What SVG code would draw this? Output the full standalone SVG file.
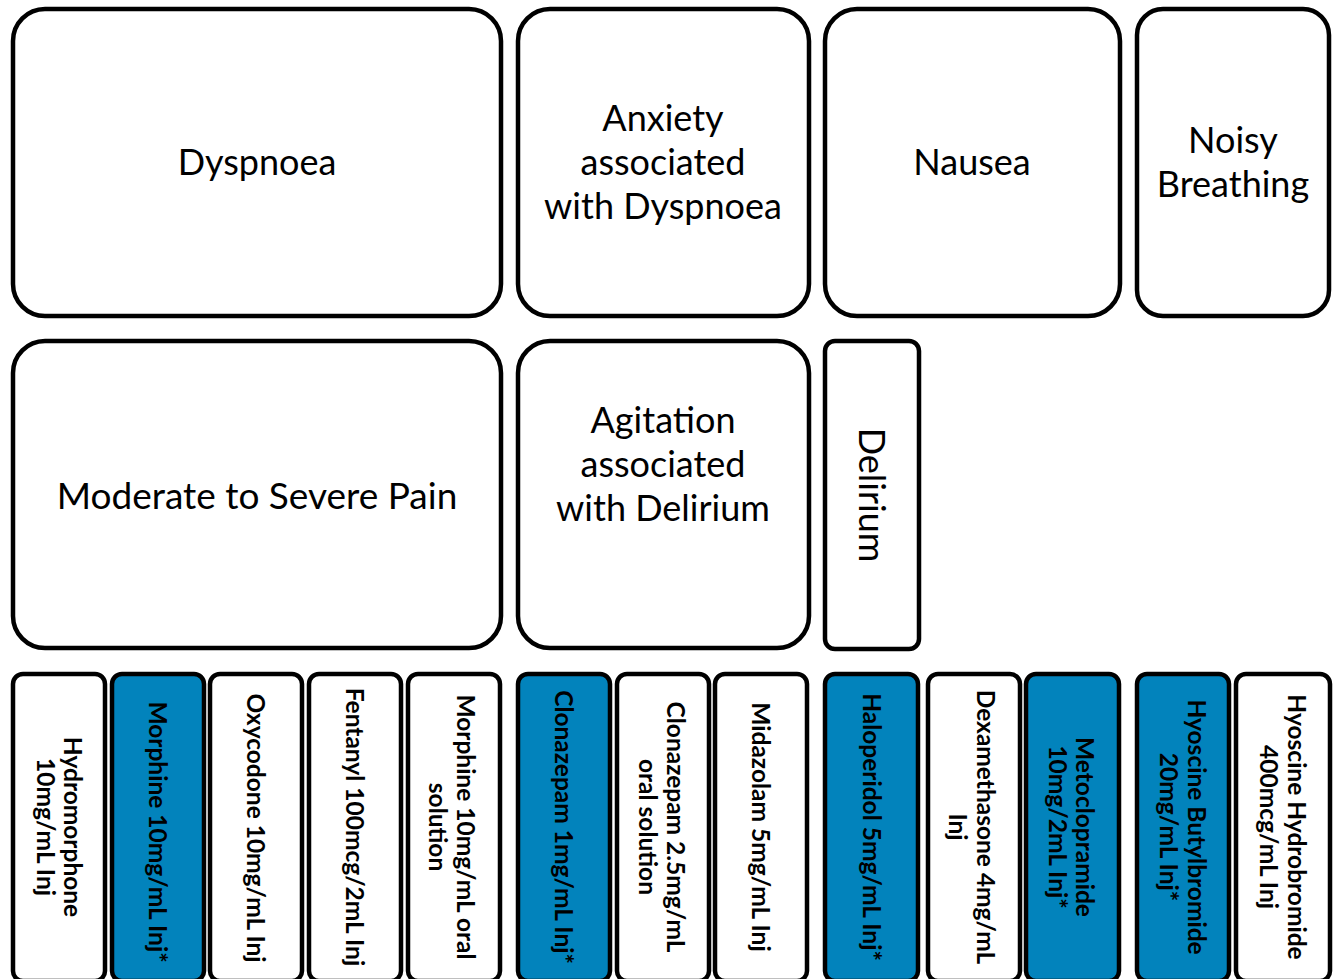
<svg xmlns="http://www.w3.org/2000/svg" width="1338" height="979" viewBox="0 0 1338 979">
<style>
.b{fill:#fff;stroke:#000;stroke-width:4.5}
.bl{fill:#0283BC;stroke:#000;stroke-width:4.5}
.t{font-family:Lato,"Liberation Sans",sans-serif;font-size:36px;fill:#000;text-anchor:middle}
.s{font-family:Lato,"Liberation Sans",sans-serif;font-size:24.5px;font-weight:bold;fill:#000;text-anchor:middle}
</style>
<rect width="1338" height="979" fill="#fff"/>
<g id="dyspnoea"><rect class="b" x="13" y="9" width="488" height="307" rx="32"/><text class="t" x="257" y="161" dominant-baseline="central">Dyspnoea</text></g>
<g id="anxiety"><rect class="b" x="518" y="9" width="291" height="307" rx="32"/><text class="t"><tspan x="663" y="117" dominant-baseline="central">Anxiety</tspan><tspan x="663" y="161" dominant-baseline="central">associated</tspan><tspan x="663" y="205" dominant-baseline="central">with Dyspnoea</tspan></text></g>
<g id="nausea"><rect class="b" x="825" y="9" width="295" height="307" rx="32"/><text class="t" x="972" y="161" dominant-baseline="central">Nausea</text></g>
<g id="noisy"><rect class="b" x="1137" y="9" width="192" height="307" rx="26"/><text class="t"><tspan x="1233" y="139" dominant-baseline="central">Noisy</tspan><tspan x="1233" y="183" dominant-baseline="central">Breathing</tspan></text></g>
<g id="pain"><rect class="b" x="13" y="341" width="488" height="307" rx="32"/><text class="t" x="257" y="494" dominant-baseline="central" style="font-size:37px">Moderate to Severe Pain</text></g>
<g id="agitation"><rect class="b" x="518" y="341" width="291" height="307" rx="32"/><text class="t"><tspan x="663" y="419" dominant-baseline="central">Agitation</tspan><tspan x="663" y="463" dominant-baseline="central">associated</tspan><tspan x="663" y="507" dominant-baseline="central">with Delirium</tspan></text></g>
<g id="delirium"><rect class="b" x="825" y="341" width="94" height="308" rx="10"/><text class="t" transform="translate(873,495) rotate(90)" x="0" y="0" dominant-baseline="central">Delirium</text></g>
<g id="hydromorphone"><rect class="b" x="13" y="674" width="92" height="307" rx="10"/><text class="s" transform="translate(60,827) rotate(90)"><tspan x="0" y="-13" dominant-baseline="central">Hydromorphone</tspan><tspan x="0" y="14" dominant-baseline="central">10mg/mL Inj</tspan></text></g>
<g id="morphine-inj"><rect class="bl" x="112" y="674" width="92" height="307" rx="10"/><text class="s" transform="translate(158,832) rotate(90)" dominant-baseline="central">Morphine 10mg/mL Inj*</text></g>
<g id="oxycodone"><rect class="b" x="210" y="674" width="92" height="307" rx="10"/><text class="s" transform="translate(256,828) rotate(90)" dominant-baseline="central">Oxycodone 10mg/mL Inj</text></g>
<g id="fentanyl"><rect class="b" x="309" y="674" width="92" height="307" rx="10"/><text class="s" transform="translate(355,827) rotate(90)" dominant-baseline="central">Fentanyl 100mcg/2mL Inj</text></g>
<g id="morphine-oral"><rect class="b" x="408" y="674" width="92" height="307" rx="10"/><text class="s" transform="translate(452,827) rotate(90)"><tspan x="0" y="-14" dominant-baseline="central">Morphine 10mg/mL oral</tspan><tspan x="0" y="14" dominant-baseline="central">solution</tspan></text></g>
<g id="clonazepam-inj"><rect class="bl" x="518" y="674" width="92" height="307" rx="10"/><text class="s" transform="translate(564,827) rotate(90)" dominant-baseline="central">Clonazepam 1mg/mL Inj*</text></g>
<g id="clonazepam-oral"><rect class="b" x="617" y="674" width="92" height="307" rx="10"/><text class="s" transform="translate(662,827) rotate(90)"><tspan x="0" y="-14" dominant-baseline="central">Clonazepam 2.5mg/mL</tspan><tspan x="0" y="14" dominant-baseline="central">oral solution</tspan></text></g>
<g id="midazolam"><rect class="b" x="715" y="674" width="92" height="307" rx="10"/><text class="s" transform="translate(761,827) rotate(90)" dominant-baseline="central">Midazolam 5mg/mL Inj</text></g>
<g id="haloperidol"><rect class="bl" x="825" y="674" width="93" height="307" rx="10"/><text class="s" transform="translate(872,827) rotate(90)" dominant-baseline="central">Haloperidol 5mg/mL Inj*</text></g>
<g id="dexamethasone"><rect class="b" x="928" y="674" width="92" height="307" rx="10"/><text class="s" transform="translate(972,827) rotate(90)"><tspan x="0" y="-14" dominant-baseline="central">Dexamethasone 4mg/mL</tspan><tspan x="0" y="14" dominant-baseline="central">Inj</tspan></text></g>
<g id="metoclopramide"><rect class="bl" x="1026" y="674" width="93" height="307" rx="10"/><text class="s" transform="translate(1072,827) rotate(90)"><tspan x="0" y="-13" dominant-baseline="central">Metoclopramide</tspan><tspan x="0" y="14" dominant-baseline="central">10mg/2mL Inj*</tspan></text></g>
<g id="hyoscine-butyl"><rect class="bl" x="1137" y="674" width="92" height="307" rx="10"/><text class="s" transform="translate(1183,827) rotate(90)"><tspan x="0" y="-14" dominant-baseline="central">Hyoscine Butylbromide</tspan><tspan x="0" y="14" dominant-baseline="central">20mg/mL Inj*</tspan></text></g>
<g id="hyoscine-hydro"><rect class="b" x="1236" y="674" width="94" height="307" rx="10"/><text class="s" transform="translate(1283,827) rotate(90)"><tspan x="0" y="-14" dominant-baseline="central">Hyoscine Hydrobromide</tspan><tspan x="0" y="14" dominant-baseline="central">400mcg/mL Inj</tspan></text></g>
<g id="connectors"></g>
</svg>
